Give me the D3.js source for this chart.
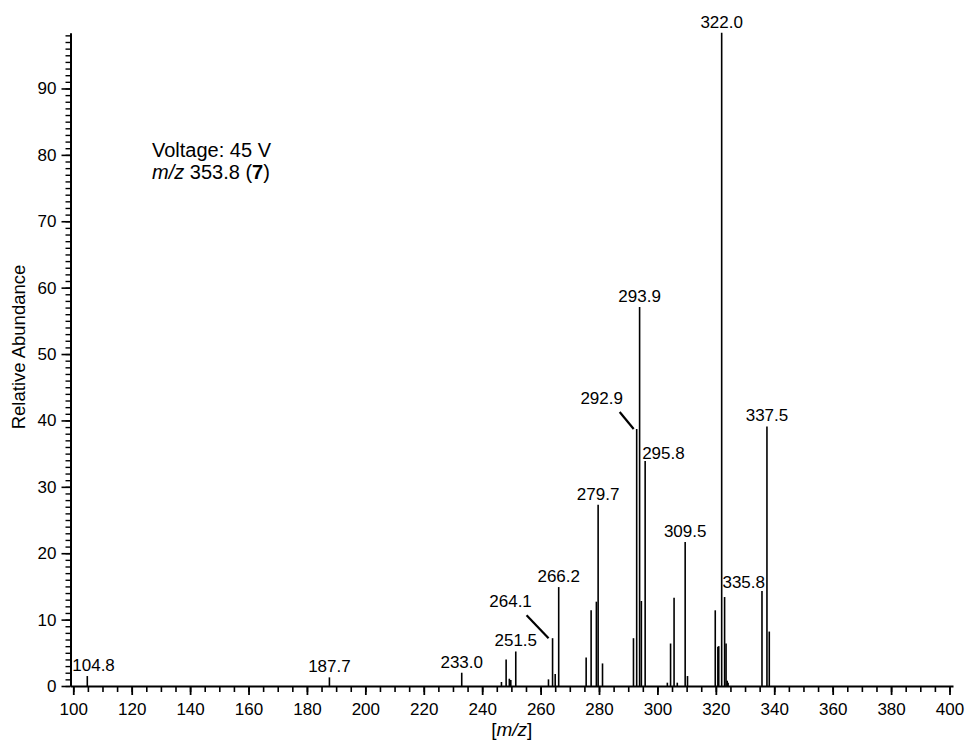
<!DOCTYPE html>
<html>
<head>
<meta charset="utf-8">
<script src="https://cdn.jsdelivr.net/npm/d3@7"></script>
<style>
  body { margin: 0; background: #fff; }
  svg { display: block; font-family: "Liberation Sans", Arial, Helvetica, sans-serif; }
  .tick text { fill: #000; }
</style>
</head>
<body>
<div id="chart"></div>
<script>
// peak list: m/z and relative abundance
const peakMz = [
  104.8, 187.7, 233.0,
  246.6, 248.2, 249.3, 249.8, 251.5,
  262.7, 264.1, 265.0, 266.2,
  275.6, 277.3, 279.1, 279.7, 281.2,
  291.8, 292.9, 293.9, 294.5, 295.8,
  303.4, 304.5, 305.7, 306.8, 309.5, 310.3,
  319.8, 320.7, 321.0, 322.0, 323.0, 323.5, 323.9, 324.2,
  335.8, 337.5, 338.3
];
const peakAbund = [
  1.5, 1.3, 2.0,
  0.6, 4.0, 1.1, 0.9, 5.2,
  1.0, 7.2, 1.8, 14.9,
  4.3, 11.4, 12.7, 27.3, 3.4,
  7.2, 38.7, 57.1, 12.8, 33.9,
  0.5, 6.4, 13.3, 0.5, 21.7, 1.5,
  11.4, 5.9, 6.0, 98.4, 13.4, 6.4, 0.8, 0.5,
  14.3, 39.1, 8.2
];

// peaks that carry a text label
const labelledMz = [104.8, 187.7, 233.0, 251.5, 264.1, 266.2, 279.7, 292.9,
                    293.9, 295.8, 309.5, 322.0, 335.8, 337.5];

// axis ticks
const xMajorTicks = d3.range(100, 401, 20);
const xMinorTicks = d3.range(100, 401, 5);
const yMajorTicks = d3.range(0, 91, 10);
const yMinorTicks = d3.range(0, 99, 1);

const xTitle = "m/z";
const yTitle = "Relative Abundance";
const noteLine1 = "Voltage: 45 V";
const noteMz = "353.8";
const noteCompound = "7";

// label placement tweaks (anchor, dx, dy, leader line)
const labelStyle = {
  104.8: { anchor: "start", dx: -15 },
  264.1: { dx: -42, dy: -26, leader: [[-26, -23], [-4, 0]] },
  292.9: { dx: -35, dy: -20, leader: [[-17, -17], [-3, 0]] },
  295.8: { anchor: "start", dx: -3, dy: 3 },
  335.8: { anchor: "end", dx: 3, dy: 2 }
};

const width = 965, height = 743;

const svg = d3.select("#chart").append("svg")
  .attr("width", width)
  .attr("height", height);

const x = d3.scaleLinear().domain([99.05, 401.2]).range([70.5, 953]);
const y = d3.scaleLinear().domain([0, 98.4]).range([686, 32.7]);

const peaks = peakMz.map((mz, i) => ({ mz: mz, v: peakAbund[i] }));

// peaks
svg.append("g")
  .selectAll("line")
  .data(peaks)
  .enter()
  .append("line")
    .attr("x1", d => x(d.mz))
    .attr("x2", d => x(d.mz))
    .attr("y1", y(0))
    .attr("y2", d => y(d.v))
    .attr("stroke", "#000")
    .attr("stroke-width", 1.6);

// X axis: minor then major ticks
svg.append("g")
  .attr("transform", `translate(0, ${y(0)})`)
  .call(d3.axisBottom(x).tickValues(xMinorTicks).tickSize(6).tickFormat(""))
  .call(g => g.select(".domain").remove())
  .call(g => g.selectAll("line").attr("stroke-width", 1.6));

svg.append("g")
  .attr("transform", `translate(0, ${y(0)})`)
  .call(d3.axisBottom(x).tickValues(xMajorTicks).tickSize(9).tickSizeOuter(0).tickPadding(8))
  .call(g => g.select(".domain").attr("stroke-width", 2))
  .call(g => g.selectAll(".tick line").attr("stroke-width", 1.8))
  .call(g => g.selectAll("text").attr("font-size", 17).attr("font-family", "Liberation Sans, Arial, sans-serif"));

// Y axis
svg.append("g")
  .attr("transform", `translate(${x.range()[0]}, 0)`)
  .call(d3.axisLeft(y).tickValues(yMinorTicks).tickSize(5).tickFormat(""))
  .call(g => g.select(".domain").remove())
  .call(g => g.selectAll("line").attr("stroke-width", 1.4));

svg.append("g")
  .attr("transform", `translate(${x.range()[0]}, 0)`)
  .call(d3.axisLeft(y).tickValues(yMajorTicks).tickSize(9).tickSizeOuter(0).tickPadding(5))
  .call(g => g.select(".domain").attr("stroke-width", 2))
  .call(g => g.selectAll(".tick line").attr("stroke-width", 1.6))
  .call(g => g.selectAll("text").attr("font-size", 17).attr("font-family", "Liberation Sans, Arial, sans-serif"));

// peak labels
const labels = svg.append("g")
  .attr("font-size", 17);

labelledMz.forEach(mz => {
  const p = peaks.find(d => d.mz === mz);
  const st = labelStyle[mz] || {};
  const px = x(p.mz), py = y(p.v);
  labels.append("text")
    .attr("x", px + (st.dx || 0))
    .attr("y", py - 5 + (st.dy || 0))
    .attr("text-anchor", st.anchor || "middle")
    .text(mz.toFixed(1));
  if (st.leader) {
    labels.append("line")
      .attr("x1", px + st.leader[0][0])
      .attr("y1", py + st.leader[0][1])
      .attr("x2", px + st.leader[1][0])
      .attr("y2", py + st.leader[1][1])
      .attr("stroke", "#000")
      .attr("stroke-width", 2.2);
  }
});

// axis titles
const xt = svg.append("text")
  .attr("x", (x.range()[0] + x.range()[1]) / 2)
  .attr("y", 736)
  .attr("text-anchor", "middle")
  .attr("font-size", 19);
xt.append("tspan").text("[");
xt.append("tspan").attr("font-style", "italic").text(xTitle);
xt.append("tspan").text("]");

svg.append("text")
  .attr("transform", "translate(25, 347) rotate(-90)")
  .attr("text-anchor", "middle")
  .attr("font-size", 18.5)
  .text(yTitle);

// annotation
svg.append("text")
  .attr("x", 152)
  .attr("y", 156.5)
  .attr("font-size", 20)
  .text(noteLine1);

const note2 = svg.append("text")
  .attr("x", 152)
  .attr("y", 178.5)
  .attr("font-size", 20);
note2.append("tspan").attr("font-style", "italic").text("m/z");
note2.append("tspan").text(" " + noteMz + " (");
note2.append("tspan").attr("font-weight", "bold").text(noteCompound);
note2.append("tspan").text(")");
</script>
</body>
</html>
